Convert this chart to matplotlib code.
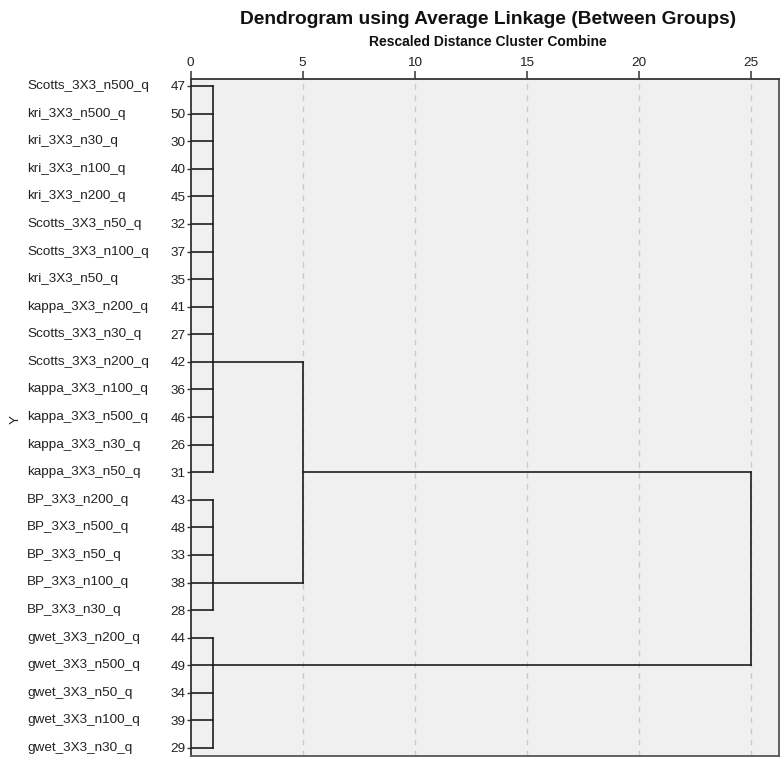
import matplotlib
matplotlib.use("Agg")
import matplotlib.pyplot as plt
import matplotlib.transforms as mtransforms

plt.rcParams['font.family'] = ['Liberation Sans', 'DejaVu Sans']

# ---- data ----
leaf_labels = [
    "Scotts_3X3_n500_q", "kri_3X3_n500_q", "kri_3X3_n30_q", "kri_3X3_n100_q",
    "kri_3X3_n200_q", "Scotts_3X3_n50_q", "Scotts_3X3_n100_q", "kri_3X3_n50_q",
    "kappa_3X3_n200_q", "Scotts_3X3_n30_q", "Scotts_3X3_n200_q", "kappa_3X3_n100_q",
    "kappa_3X3_n500_q", "kappa_3X3_n30_q", "kappa_3X3_n50_q",
    "BP_3X3_n200_q", "BP_3X3_n500_q", "BP_3X3_n50_q", "BP_3X3_n100_q", "BP_3X3_n30_q",
    "gwet_3X3_n200_q", "gwet_3X3_n500_q", "gwet_3X3_n50_q", "gwet_3X3_n100_q",
    "gwet_3X3_n30_q",
]
case_ids = [47, 50, 30, 40, 45, 32, 37, 35, 41, 27, 42, 36, 46, 26, 31,
            43, 48, 33, 38, 28, 44, 49, 34, 39, 29]

cluster_names = ["A", "B", "C"]
cluster_sizes = [15, 5, 5]
cluster_heights = [1, 1, 1]
cluster_attach_case = [42, 38, 49]

merge_left = ["A", "AB"]
merge_right = ["B", "C"]
merge_names = ["AB", "ABC"]
merge_heights = [5, 25]
merge_attach_case = [31, None]

x_ticks = [0, 5, 10, 15, 20, 25]

# ---- figure ----
W, H = 781, 760
fig = plt.figure(figsize=(W / 100, H / 100), dpi=100)
fig.patch.set_facecolor("white")

left_px, right_px, top_px, bottom_px = 190.5, 779.3, 79.0, 755.7
ax = fig.add_axes([left_px / W, 1 - bottom_px / H,
                   (right_px - left_px) / W, (bottom_px - top_px) / H])
ax.set_facecolor("#f0f0f0")

n = len(leaf_labels)
row_of = {c: i for i, c in enumerate(case_ids)}
line_kw = dict(color="#1e1e1e", lw=1.2, solid_capstyle="projecting", zorder=3)

# grid
for t in x_ticks[1:]:
    ax.axvline(t, color="#c9c9c9", lw=1.0, ls=(0, (4, 4)), zorder=1)

nodes = {}
start = 0
for name, size, h, att in zip(cluster_names, cluster_sizes, cluster_heights, cluster_attach_case):
    rows = list(range(start, start + size))
    for r in rows:
        ax.plot([0, h], [r, r], **line_kw)
    ax.plot([h, h], [rows[0], rows[-1]], **line_kw)
    nodes[name] = (row_of[att], h)
    start += size

for lname, rname, mname, mh, att in zip(merge_left, merge_right, merge_names,
                                        merge_heights, merge_attach_case):
    lr, lh = nodes[lname]
    rr, rh = nodes[rname]
    ax.plot([lh, mh], [lr, lr], **line_kw)
    ax.plot([rh, mh], [rr, rr], **line_kw)
    ax.plot([mh, mh], [lr, rr], **line_kw)
    nodes[mname] = (row_of[att] if att is not None else (lr + rr) / 2, mh)

sp = (748 - 86) / 24.0
ax.set_ylim(24 + (bottom_px - 748) / sp, -(86 - top_px) / sp)
ax.set_xlim(0, 25 + (right_px - 750.5) / ((750.5 - left_px) / 25))

ax.xaxis.tick_top()
ax.set_xticks(x_ticks)
ax.set_xticklabels([str(t) for t in x_ticks])
ax.tick_params(axis="x", direction="out", length=6, width=1.1, color="#333333",
               labelsize=9.7, pad=1, labelcolor="#222222")
ax.set_yticks(range(n))
ax.set_yticklabels([str(c) for c in case_ids])
ax.tick_params(axis="y", direction="out", length=3, width=1.0, color="#333333",
               labelsize=9.7, pad=0.5, labelcolor="#222222")

for s in ax.spines.values():
    s.set_color("#555555")
    s.set_linewidth(1.3)
ax.spines["left"].set_color("#333333")
ax.spines["top"].set_color("#333333")

trans = mtransforms.blended_transform_factory(fig.transFigure, ax.transData)
for i, lab in enumerate(leaf_labels):
    ax.text(27 / W, i, lab, transform=trans, ha="left", va="center",
            fontsize=9.7, color="#222222", clip_on=False)

fig.text(16 / W, 1 - 419 / H, "Y", rotation=90, ha="center", va="center",
         fontsize=9.7, color="#222222")

cx = 488 / W
fig.text(cx, 1 - 19 / H, "Dendrogram using Average Linkage (Between Groups)",
         ha="center", va="center", fontsize=13.8, fontweight="bold", color="#111111")
fig.text(cx, 1 - 42 / H, "Rescaled Distance Cluster Combine",
         ha="center", va="center", fontsize=10.0, fontweight="bold", color="#111111")

fig.savefig("out.png", dpi=100, facecolor="white")
